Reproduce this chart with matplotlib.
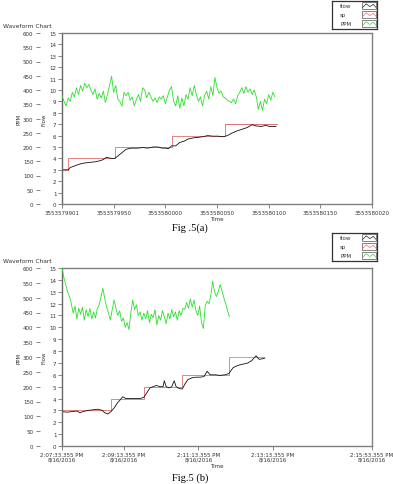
import numpy as np
import matplotlib
matplotlib.use("Agg")
import matplotlib.pyplot as plt

# ---- Fig 5(a) data (x = samples after 3553579901) ----
a_tick_pos = [0, 50, 100, 150, 200, 250, 300]
a_tick_lab = ['3553579901', '3553579950', '3553580000', '3553580050',
              '3553580100', '3553580150', '3553580020']
a_sp_t = [0, 6, 51, 106, 158, 208]
a_sp_v = [3, 4, 5, 6, 7, 7]
a_flow_t = [0, 3, 6, 8, 11, 14, 17, 22, 27, 32, 37, 40, 43, 45, 48, 51, 54, 58, 62, 67,
            73, 78, 83, 88, 93, 97, 100, 103, 106, 110, 114, 118, 122, 127, 132, 136,
            141, 146, 151, 156, 160, 164, 169, 174, 179, 184, 188, 193, 197, 201, 207]
a_flow_v = [3.0, 3.0, 3.0, 3.2, 3.3, 3.4, 3.5, 3.6, 3.65, 3.7, 3.8, 3.9, 4.1, 4.05, 4.0,
            4.0, 4.2, 4.5, 4.8, 4.9, 4.9, 4.95, 4.9, 5.0, 5.0, 4.9, 4.9, 4.85, 5.1, 5.1,
            5.4, 5.5, 5.7, 5.8, 5.85, 5.9, 6.0, 5.95, 5.95, 5.9, 6.0, 6.2, 6.4, 6.55, 6.7,
            6.95, 6.85, 6.8, 6.9, 6.8, 6.8]
a_ppm_t0, a_ppm_dt = 0, 2
a_ppm = [380, 360, 344, 372, 360, 392, 376, 408, 384, 416, 396, 424, 408, 420, 400, 384,
         404, 368, 388, 372, 396, 356, 384, 416, 448, 392, 416, 368, 360, 344, 392, 380,
         392, 364, 376, 344, 368, 384, 360, 408, 400, 372, 392, 376, 360, 372, 356, 376,
         368, 380, 352, 376, 400, 412, 360, 344, 380, 336, 372, 344, 384, 368, 408, 380,
         416, 384, 360, 376, 344, 380, 396, 368, 412, 380, 444, 408, 388, 396, 376, 372,
         364, 360, 356, 368, 352, 380, 392, 408, 388, 412, 392, 404, 384, 400, 376, 332,
         360, 328, 368, 352, 384, 364, 392, 376]

# ---- Fig 5(b) data (x = seconds after 2:07:33.355 PM) ----
b_tick_pos = [0, 100, 220, 340, 500]
b_tick_lab = ['2:07:33.355 PM\n8/16/2016', '2:09:13.355 PM\n8/16/2016',
              '2:11:13.355 PM\n8/16/2016', '2:13:13.355 PM\n8/16/2016',
              '2:15:53.355 PM\n8/16/2016']
b_sp_t = [0, 79, 132, 193, 269, 326]
b_sp_v = [3, 4, 5, 6, 7.5, 7.5]
b_flow_t = [0, 8, 16, 24, 29, 34, 42, 50, 58, 65, 69, 74, 79, 84, 89, 94, 98, 103, 110,
            118, 126, 132, 137, 142, 147, 152, 158, 163, 165, 168, 173, 177, 181, 184,
            189, 194, 198, 203, 210, 216, 223, 229, 234, 239, 247, 255, 263, 269, 276,
            284, 292, 300, 306, 313, 318, 323, 327]
b_flow_v = [2.9, 2.85, 2.9, 2.95, 2.8, 2.9, 3.0, 3.05, 3.1, 3.0, 2.8, 2.7, 2.9, 3.2, 3.6,
            3.9, 4.15, 4.0, 4.0, 4.0, 4.0, 4.1, 4.5, 4.9, 5.0, 5.1, 5.0, 5.0, 5.5, 5.0,
            4.9, 5.0, 5.5, 5.0, 4.85, 4.8, 5.2, 5.6, 5.75, 5.8, 5.8, 5.85, 6.3, 6.0, 6.0,
            5.95, 6.0, 6.1, 6.6, 6.8, 6.9, 7.0, 7.2, 7.6, 7.3, 7.35, 7.4]
b_ppm_t0, b_ppm_dt = 0, 3
b_ppm = [600, 568, 544, 520, 504, 480, 448, 472, 428, 464, 444, 468, 424, 460, 436, 464,
         428, 452, 432, 464, 476, 504, 532, 496, 468, 448, 424, 460, 492, 464, 440, 456,
         420, 432, 400, 416, 392, 448, 492, 460, 476, 440, 452, 424, 448, 428, 456, 416,
         444, 432, 460, 408, 440, 424, 456, 436, 412, 448, 428, 460, 436, 452, 424, 456,
         440, 464, 460, 484, 464, 496, 468, 492, 456, 440, 472, 416, 396, 472, 488, 480,
         508, 556, 520, 504, 520, 544, 524, 500, 480, 456, 436]

W, H = 393, 485
FS = 4.0
fig = plt.figure(figsize=(W / 100, H / 100), dpi=100)


def rect(x0, y0, x1, y1):
    return [x0 / W, 1 - y1 / H, (x1 - x0) / W, (y1 - y0) / H]


def legend_box(y0):
    lg = fig.add_axes(rect(332, y0, 377, y0 + 28))
    lg.set_xlim(0, 1)
    lg.set_ylim(0, 1)
    lg.set_xticks([])
    lg.set_yticks([])
    for s in lg.spines.values():
        s.set_color('#333333')
        s.set_linewidth(0.9)
    names = ['flow', 'sp', 'PPM']
    cols = ['#222222', '#e07070', '#2be02b']
    for i, (n, c) in enumerate(zip(names, cols)):
        yc = 0.83 - i * 0.32
        lg.text(0.18, yc, n, fontsize=FS, va='center', ha='left', color='#333333')
        lg.add_patch(plt.Rectangle((0.66, yc - 0.13), 0.32, 0.26, fill=False,
                                   ec='#555555', lw=0.5))
        lg.plot([0.68, 0.76, 0.84, 0.92, 0.97],
                [yc - 0.06, yc + 0.07, yc - 0.03, yc + 0.05, yc - 0.05], color=c, lw=0.5)


def chart(y0, y1, xmax, tpos, tlab, sp_t, sp_v, fl_t, fl_v, ppm_t0, ppm_dt, ppm, last_col):
    ax = fig.add_axes(rect(62, y0, 372, y1))
    ax.set_xlim(0, xmax)
    ax.set_ylim(0, 15)
    ax.set_yticks(range(0, 16))
    ax.set_xticks(tpos)
    ax.set_xticklabels(tlab, fontsize=FS, color='#333333', linespacing=1.1)
    ax.tick_params(axis='both', direction='out', length=3, width=0.5,
                   colors='#555555', labelsize=FS, pad=1)
    ax.tick_params(axis='x', labelcolor='#333333')
    ax.tick_params(axis='y', labelcolor='#333333')
    for k, s in ax.spines.items():
        s.set_color('#808080')
        s.set_linewidth(1.0)
    ax.spines['left'].set_color('#666666')
    ax.set_xlabel('Time', fontsize=FS, color='#333333', labelpad=1)

    ax2 = ax.twinx()
    ax2.set_ylim(0, 600)
    ax2.set_yticks(range(0, 601, 50))
    ax2.yaxis.tick_left()
    for s in ax2.spines.values():
        s.set_visible(False)
    ax2.spines['left'].set_position(('outward', 16))
    ax2.tick_params(axis='y', direction='out', length=3, width=0.5, colors='#555555',
                    labelsize=FS, pad=1.5, labelcolor='#333333')

    t_ppm = ppm_t0 + ppm_dt * np.arange(len(ppm))
    ax2.plot(t_ppm, ppm, color='#2be02b', lw=0.6)
    ax.step(sp_t[:-1] + [sp_t[-1]], sp_v, where='post', color='#e07070', lw=0.6)
    ax.plot([sp_t[-2], sp_t[-1]], [sp_v[-2], sp_v[-1]], color=last_col, lw=0.6)
    ax.plot(fl_t, fl_v, color='#111111', lw=0.6)

    yc = 1 - (y0 + y1) / 2 / H
    fig.text(19 / W, yc, 'PPM', rotation=90, fontsize=FS, ha='center', va='center',
             color='#333333')
    fig.text(44 / W, yc, 'Flow', rotation=90, fontsize=FS, ha='center', va='center',
             color='#333333')
    fig.text(3 / W, 1 - (y0 - 7) / H, 'Waveform Chart', fontsize=FS + 0.3,
             ha='left', va='center', color='#333333')
    return ax


chart(34, 205, 300, a_tick_pos, a_tick_lab, a_sp_t, a_sp_v, a_flow_t, a_flow_v,
      a_ppm_t0, a_ppm_dt, a_ppm, '#e07070')
legend_box(2)
chart(269, 447, 500, b_tick_pos, b_tick_lab, b_sp_t, b_sp_v, b_flow_t, b_flow_v,
      b_ppm_t0, b_ppm_dt, b_ppm, '#f0a070')
legend_box(234)

fig.text(190 / W, 1 - 228 / H, 'Fig .5(a)', family='Liberation Serif', fontsize=7.5,
         ha='center', va='center')
fig.text(190 / W, 1 - 478 / H, 'Fig.5 (b)', family='Liberation Serif', fontsize=7.5,
         ha='center', va='center')

fig.savefig('out.png', dpi=100)
